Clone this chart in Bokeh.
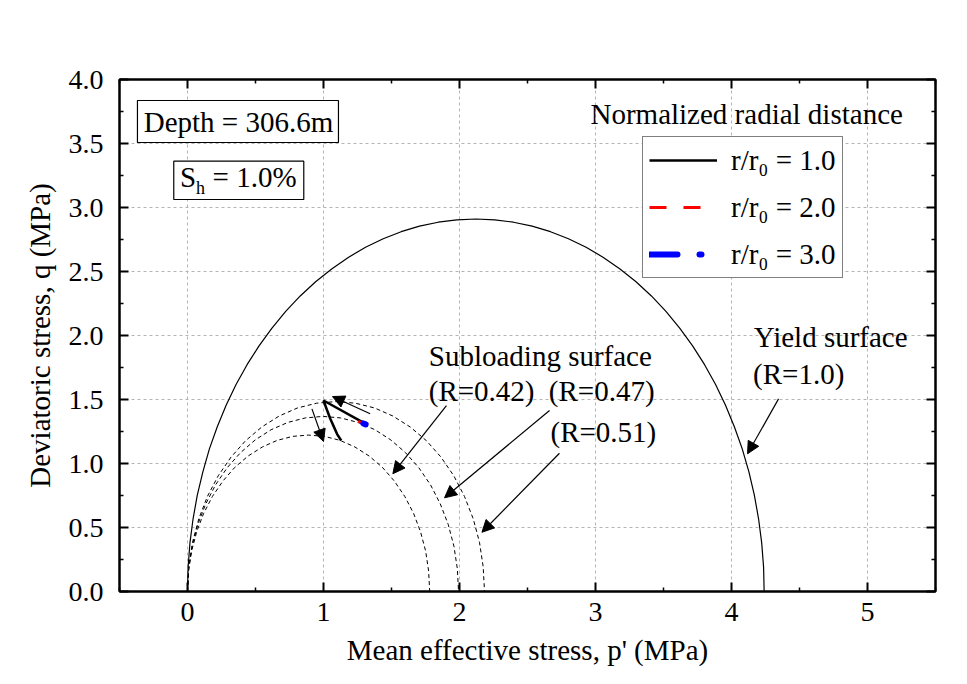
from bokeh.plotting import figure
from bokeh.models import (Legend, LegendItem, Label, BoxAnnotation, Arrow, NormalHead,
                          FixedTicker, NumeralTickFormatter, LinearAxis, CustomJSTickFormatter, Range1d)
from bokeh.embed import file_html
from bokeh.resources import INLINE

# ---------------- data ----------------
yield_p = [0.0, 0.0045, 0.018, 0.041, 0.072, 0.113, 0.161, 0.219, 0.284, 0.357, 0.438, 0.526,
           0.621, 0.722, 0.829, 0.942, 1.06, 1.182, 1.309, 1.439, 1.571, 1.706, 1.843, 1.981, 2.12,
           2.259, 2.397, 2.534, 2.669, 2.801, 2.931, 3.058, 3.18, 3.298, 3.411, 3.518, 3.619,
           3.714, 3.802, 3.883, 3.956, 4.021, 4.079, 4.128, 4.168, 4.199, 4.222, 4.236, 4.24]
yield_q = [0.0, 0.19, 0.38, 0.568, 0.753, 0.935, 1.114, 1.287, 1.455, 1.617, 1.772, 1.919,
           2.058, 2.188, 2.309, 2.42, 2.52, 2.61, 2.689, 2.756, 2.811, 2.854, 2.885, 2.904, 2.91,
           2.904, 2.885, 2.854, 2.811, 2.756, 2.689, 2.61, 2.52, 2.42, 2.309, 2.188, 2.058,
           1.919, 1.772, 1.617, 1.455, 1.287, 1.114, 0.935, 0.753, 0.568, 0.38, 0.19, 0.0]

sub042_p = [0.0, 0.008, 0.03, 0.068, 0.119, 0.184, 0.261, 0.348, 0.445, 0.55, 0.66, 0.774, 0.89,
            1.007, 1.121, 1.231, 1.336, 1.433, 1.52, 1.597, 1.662, 1.713, 1.751, 1.773, 1.781]
sub042_q = [0.0, 0.16, 0.316, 0.468, 0.611, 0.744, 0.864, 0.97, 1.058, 1.129, 1.181, 1.212, 1.222,
            1.212, 1.181, 1.129, 1.058, 0.97, 0.864, 0.744, 0.611, 0.468, 0.316, 0.16, 0.0]

sub047_p = [0.0, 0.008, 0.034, 0.076, 0.134, 0.206, 0.292, 0.39, 0.498, 0.615, 0.738, 0.866, 0.996,
            1.127, 1.254, 1.378, 1.495, 1.603, 1.701, 1.787, 1.859, 1.917, 1.959, 1.984, 1.993]
sub047_q = [0.0, 0.179, 0.354, 0.524, 0.684, 0.833, 0.967, 1.085, 1.184, 1.264, 1.321, 1.356, 1.368,
            1.356, 1.321, 1.264, 1.184, 1.085, 0.967, 0.833, 0.684, 0.524, 0.354, 0.179, 0.0]

sub051_p = [0.0, 0.009, 0.037, 0.083, 0.146, 0.226, 0.32, 0.427, 0.546, 0.674, 0.809, 0.949, 1.092,
            1.235, 1.375, 1.51, 1.638, 1.757, 1.864, 1.958, 2.037, 2.101, 2.147, 2.174, 2.184]
sub051_q = [0.0, 0.194, 0.384, 0.568, 0.742, 0.904, 1.05, 1.178, 1.285, 1.371, 1.434, 1.471, 1.484,
            1.471, 1.434, 1.371, 1.285, 1.178, 1.05, 0.904, 0.742, 0.568, 0.384, 0.194, 0.0]

# stress paths for normalized radial distance r/r0
path_r1_p = [1.30, 1.00, 1.025, 1.05, 1.075, 1.10, 1.13]
path_r1_q = [1.315, 1.492, 1.42, 1.35, 1.29, 1.23, 1.18]
path_r2_p = [1.255, 1.285]
path_r2_q = [1.33, 1.316]
path_r3_p = [1.293, 1.31]
path_r3_q = [1.313, 1.306]

legend_labels = ["r/r\u2080 = 1.0", "r/r\u2080 = 2.0", "r/r\u2080 = 3.0"]

x_ticks = [0, 1, 2, 3, 4, 5]
x_minor = [-0.5, 0.5, 1.5, 2.5, 3.5, 4.5, 5.5]
y_ticks = [0.0, 0.5, 1.0, 1.5, 2.0, 2.5, 3.0, 3.5, 4.0]
y_minor = [0.25, 0.75, 1.25, 1.75, 2.25, 2.75, 3.25, 3.75]

FONT = "Liberation Serif"

# ---------------- figure ----------------
p = figure(width=967, height=684, x_range=Range1d(-0.5, 5.5), y_range=Range1d(0, 4),
           output_backend="svg", toolbar_location=None,
           min_border_left=119, min_border_right=32, min_border_top=79, min_border_bottom=93)
p.background_fill_color = "white"
p.border_fill_color = "white"
p.outline_line_color = "black"
p.outline_line_width = 2

xt = FixedTicker(ticks=x_ticks, minor_ticks=x_minor)
yt = FixedTicker(ticks=y_ticks, minor_ticks=y_minor)

def style_axis(ax, ticker):
    ax.ticker = ticker
    ax.axis_line_width = 2
    ax.axis_line_color = "black"
    ax.major_tick_in = 9
    ax.major_tick_out = 0
    ax.minor_tick_in = 4
    ax.minor_tick_out = 0
    ax.major_tick_line_width = 2
    ax.minor_tick_line_width = 1.5
    ax.major_tick_line_color = "black"
    ax.minor_tick_line_color = "black"
    ax.major_label_text_font = FONT
    ax.major_label_text_font_size = "28px"
    ax.major_label_text_color = "black"
    ax.axis_label_text_font = FONT
    ax.axis_label_text_font_size = "29px"
    ax.axis_label_text_font_style = "normal"
    ax.axis_label_text_color = "black"

style_axis(p.xaxis[0], xt)
style_axis(p.yaxis[0], yt)
p.xaxis[0].axis_label = "Mean effective stress, p' (MPa)"
p.yaxis[0].axis_label = "Deviatoric stress, q (MPa)"
p.xaxis[0].major_label_standoff = 11
p.yaxis[0].major_label_standoff = 16
p.xaxis[0].axis_label_standoff = 10
p.yaxis[0].axis_label_standoff = 10
p.yaxis[0].formatter = NumeralTickFormatter(format="0.0")

top_ax = LinearAxis(formatter=CustomJSTickFormatter(code="return ''"))
right_ax = LinearAxis(formatter=CustomJSTickFormatter(code="return ''"))
style_axis(top_ax, xt)
style_axis(right_ax, yt)
top_ax.major_label_standoff = 0
right_ax.major_label_standoff = 0
p.add_layout(top_ax, "above")
p.add_layout(right_ax, "right")

for g in (p.xgrid[0], p.ygrid[0]):
    g.grid_line_color = "#b4b4b4"
    g.grid_line_dash = "3 3"
    g.grid_line_width = 1
p.xgrid[0].ticker = xt
p.ygrid[0].ticker = yt

# ---------------- curves ----------------
p.line(yield_p, yield_q, line_color="black", line_width=1.2)
for sp, sq in ((sub042_p, sub042_q), (sub047_p, sub047_q), (sub051_p, sub051_q)):
    p.line(sp, sq, line_color="black", line_width=1, line_dash="4 3")

r1 = p.line(path_r1_p, path_r1_q, line_color="black", line_width=2.5)
r2 = p.line(path_r2_p, path_r2_q, line_color="#ff0000", line_width=3, line_dash="17 17")
r3 = p.line(path_r3_p, path_r3_q, line_color="#0000ff", line_width=6, line_dash="28 22 2 22",
            line_cap="round")

# ---------------- arrows ----------------
arrow_specs = [
    (1.343, 1.389, 1.066, 1.523),
    (0.915, 1.427, 1.000, 1.172),
    (1.904, 1.453, 1.510, 0.920),
    (2.662, 1.414, 1.890, 0.732),
    (2.735, 1.080, 2.165, 0.463),
    (4.346, 1.505, 4.118, 1.076),
]
for xs, ys, xe, ye in arrow_specs:
    p.add_layout(Arrow(end=NormalHead(size=12, fill_color="black", line_color="black", line_width=1),
                       x_start=xs, y_start=ys, x_end=xe, y_end=ye,
                       line_color="black", line_width=1.2))

# ---------------- text boxes ----------------
for l, r, b, t in ((-0.368, 1.110, 3.508, 3.836), (-0.101, 0.855, 3.0625, 3.362)):
    p.add_layout(BoxAnnotation(left=l, right=r, bottom=b, top=t,
                               fill_color="white", fill_alpha=1,
                               line_color="black", line_alpha=1, line_width=1.2))

DY = 0.0625  # baseline correction

def lab(x, y, text, size="29px"):
    p.add_layout(Label(x=x, y=y + DY, text=text, text_font=FONT, text_font_size=size,
                       text_color="black", text_baseline="alphabetic", text_align="left"))

lab(-0.322, 3.607, "Depth = 306.6m")
lab(-0.056, 3.172, "S")
lab(0.0625, 3.086, "h", "18px")
lab(0.1846, 3.172, "= 1.0%")
lab(1.774, 1.779, "Subloading surface")
lab(1.774, 1.505, "(R=0.42)")
lab(2.657, 1.505, "(R=0.47)")
lab(2.669, 1.180, "(R=0.51)")
lab(4.164, 1.922, "Yield surface")
lab(4.159, 1.635, "(R=1.0)")
lab(2.963, 3.666, "Normalized radial distance")

# ---------------- legend ----------------
legend = Legend(items=[LegendItem(label=legend_labels[0], renderers=[r1]),
                       LegendItem(label=legend_labels[1], renderers=[r2]),
                       LegendItem(label=legend_labels[2], renderers=[r3])],
                location=(523, 313), margin=0, padding=6, spacing=13,
                glyph_width=68, glyph_height=34, label_height=34, label_standoff=14,
                label_text_font=FONT, label_text_font_size="29px", label_text_color="black",
                border_line_color="black", border_line_width=1,
                background_fill_color="white", background_fill_alpha=1)
p.add_layout(legend)

open("out.html", "w").write(file_html(p, INLINE))
